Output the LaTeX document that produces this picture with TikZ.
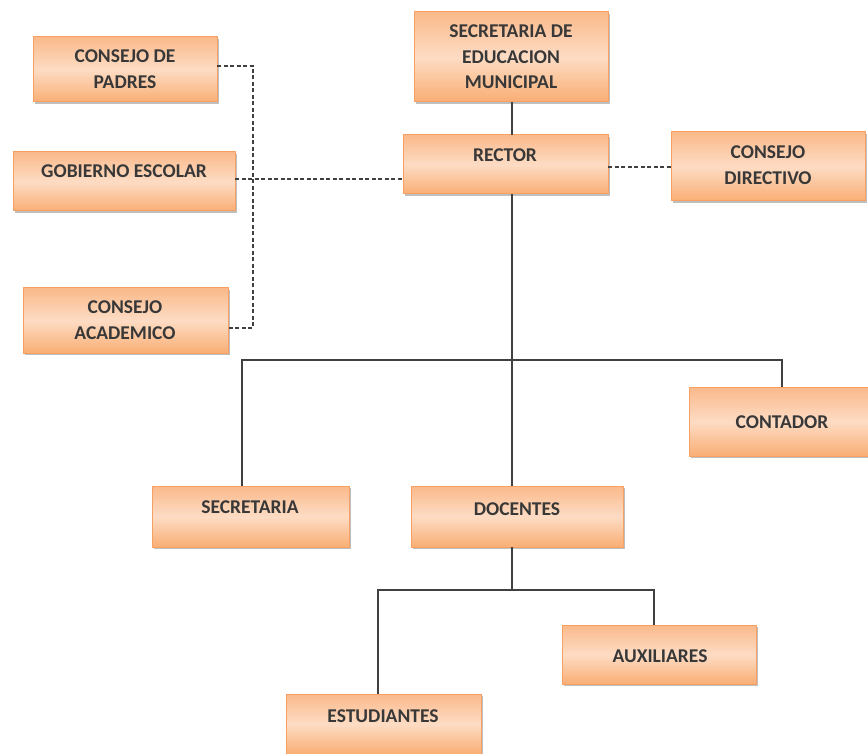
\documentclass[tikz,border=0pt]{standalone}
\usepackage{fontspec}
\setmainfont{Carlito}
\usetikzlibrary{shadows}
\definecolor{boxborder}{HTML}{F7A064}
\definecolor{boxtop}{HTML}{FAB98A}
\definecolor{boxmid}{HTML}{FDDCC4}
\definecolor{boxbot}{HTML}{F9AE74}
\definecolor{txt}{HTML}{383838}
\tikzset{
  orgbox/.style={draw=boxborder, line width=1pt, top color=boxtop, bottom color=boxbot, middle color=boxmid,
    drop shadow={shadow xshift=1.5pt, shadow yshift=-2pt, opacity=0.25, fill=black}},
  lbl/.style={font=\fontsize{19.5}{25.5}\selectfont\bfseries, text=txt, align=center},
  solidline/.style={draw=black!75, line width=1.2pt},
  dashline/.style={draw=black!75, line width=1.1pt, dash pattern=on 4pt off 2.5pt}
}
\begin{document}
\begin{tikzpicture}[x=1pt,y=-1pt]
\useasboundingbox (0,0) rectangle (868,754);
% boxes
\path[orgbox] (33,37) rectangle (217,102);
\node[lbl] (padres) at (125,69) {CONSEJO DE\\PADRES};
\path[orgbox] (414,12) rectangle (608,102);
\node[lbl] (sem) at (511,57) {SECRETARIA DE\\EDUCACION\\MUNICIPAL};
\path[orgbox] (13,152) rectangle (235,211);
\node[lbl] (gob) at (124,171) {GOBIERNO ESCOLAR};
\path[orgbox] (403,135) rectangle (608,194);
\node[lbl] (rector) at (505,155) {RECTOR};
\path[orgbox] (671,132) rectangle (865,201);
\node[lbl] (directivo) at (768,165) {CONSEJO\\DIRECTIVO};
\path[orgbox] (23,288) rectangle (228,353);
\node[lbl] (academico) at (125,320) {CONSEJO\\ACADEMICO};
\path[orgbox] (689,387) rectangle (868,456);
\node[lbl] (contador) at (782,422) {CONTADOR};
\path[orgbox] (152,486) rectangle (349,547);
\node[lbl] (secretaria) at (250,507) {SECRETARIA};
\path[orgbox] (411,486) rectangle (623,547);
\node[lbl] (docentes) at (517,509) {DOCENTES};
\path[orgbox] (562,625) rectangle (756,684);
\node[lbl] (auxiliares) at (660,656) {AUXILIARES};
\path[orgbox] (286,694) rectangle (481,754);
\node[lbl] (estudiantes) at (383,716) {ESTUDIANTES};
% connectors
\coordinate (semB) at (512,102);
\coordinate (rectT) at (512,135);
\coordinate (rectB) at (512,194);
\coordinate (hub) at (512,360);
\coordinate (secT) at (242,486);
\coordinate (conT) at (782,387);
\coordinate (docT) at (512,486);
\coordinate (docB) at (512,547);
\coordinate (hub2) at (512,590);
\coordinate (estT) at (378,694);
\coordinate (auxT) at (654,625);
\draw[solidline] (semB) -- (rectT);
\draw[solidline] (rectB) -- (hub);
\draw[solidline] (secT) |- (hub) -| (conT);
\draw[solidline] (hub) -- (docT);
\draw[solidline] (docB) -- (hub2);
\draw[solidline] (estT) |- (hub2) -| (auxT);
% dashed
\coordinate (padR) at (217,66);
\coordinate (acaR) at (228,328);
\coordinate (gobR) at (235,179);
\coordinate (rectL) at (403,179);
\coordinate (rectR) at (608,167);
\coordinate (dirL) at (671,167);
\draw[dashline] (padR) -| (253,328) -- (acaR);
\draw[dashline] (gobR) -- (rectL);
\draw[dashline] (rectR) -- (dirL);
\end{tikzpicture}
\end{document}
